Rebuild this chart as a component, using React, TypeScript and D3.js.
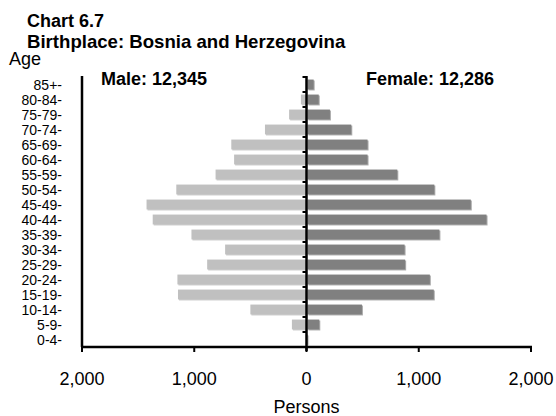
import React from "react";
import * as d3 from "d3";

const ageGroups = ["85+", "80-84", "75-79", "70-74", "65-69", "60-64", "55-59", "50-54", "45-49", "40-44", "35-39", "30-34", "25-29", "20-24", "15-19", "10-14", "5-9", "0-4"];
const maleValues = [10, 50, 155, 370, 670, 645, 810, 1160, 1425, 1370, 1025, 725, 885, 1150, 1145, 500, 130, 10];
const femaleValues = [55, 100, 200, 390, 535, 535, 800, 1130, 1455, 1595, 1175, 865, 870, 1090, 1125, 485, 105, 5];
const xTicks = [-2000, -1000, 0, 1000, 2000];
const maleTotal = "Male: 12,345";
const femaleTotal = "Female: 12,286";

export default function App() {
  const W = 556, H = 416;
  const font = "'Liberation Sans', Arial, sans-serif";
  const x = d3.scaleLinear().domain([-2000, 2000]).range([82, 531]);
  const y = d3.scaleBand().domain(ageGroups).range([77, 347]).paddingInner(0.34).paddingOuter(0.17);
  const fmt = d3.format(",");
  const x0 = x(0);
  const bottom = 347;
  const bandStep = y.step();
  const boundaries = d3.range(ageGroups.length + 1).map((i) => 77 + i * bandStep);
  return (
    <svg width={W} height={H} style={{ position: "absolute", left: 0, top: 0 }} fontFamily={font}>
      <text x={27} y={27} fontSize={18} fontWeight="bold">Chart 6.7</text>
      <text x={27} y={48} fontSize={18.6} fontWeight="bold">Birthplace: Bosnia and Herzegovina</text>
      <text x={9} y={65} fontSize={18}>Age</text>
      <text x={101} y={85} fontSize={18} fontWeight="bold">{maleTotal}</text>
      <text x={494} y={85} fontSize={18} fontWeight="bold" textAnchor="end">{femaleTotal}</text>

      {ageGroups.map((g, i) => (
        <g key={g}>
          <rect x={x(-maleValues[i]) + 1} y={(y(g) as number) + 1} width={x0 - x(-maleValues[i])} height={y.bandwidth()} fill="#9a9a9a" opacity={0.5} />
          <rect x={x(-maleValues[i])} y={y(g)} width={x0 - x(-maleValues[i]) - 1} height={y.bandwidth()} fill="#c0c0c0" />
          <rect x={x0 + 2} y={(y(g) as number) + 1} width={x(femaleValues[i]) - x0} height={y.bandwidth()} fill="#5a5a5a" opacity={0.5} />
          <rect x={x0 + 1} y={y(g)} width={x(femaleValues[i]) - x0} height={y.bandwidth()} fill="#808080" />
          <text x={62} y={(y(g) as number) + y.bandwidth() / 2 + 5} fontSize={14} textAnchor="end">{g}-</text>
        </g>
      ))}

      {boundaries.map((b, i) => (
        <line key={i} x1={x0 - 4} x2={x0} y1={b} y2={b} stroke="#000" strokeWidth={2} />
      ))}
      <line x1={x0} x2={x0} y1={76} y2={bottom + 4} stroke="#000" strokeWidth={2.5} />
      <line x1={x(-2000)} x2={x(-2000)} y1={76} y2={bottom} stroke="#000" strokeWidth={2.5} />
      <line x1={x(-2000) - 1} x2={x(2000) + 1} y1={bottom} y2={bottom} stroke="#000" strokeWidth={2.5} />
      {xTicks.map((t) => (
        <g key={t}>
          <line x1={x(t)} x2={x(t)} y1={bottom} y2={bottom + 5} stroke="#000" strokeWidth={2} />
          <text x={x(t)} y={385} fontSize={18} textAnchor="middle">{fmt(Math.abs(t))}</text>
        </g>
      ))}
      <text x={x0} y={413} fontSize={18} textAnchor="middle">Persons</text>
    </svg>
  );
}
